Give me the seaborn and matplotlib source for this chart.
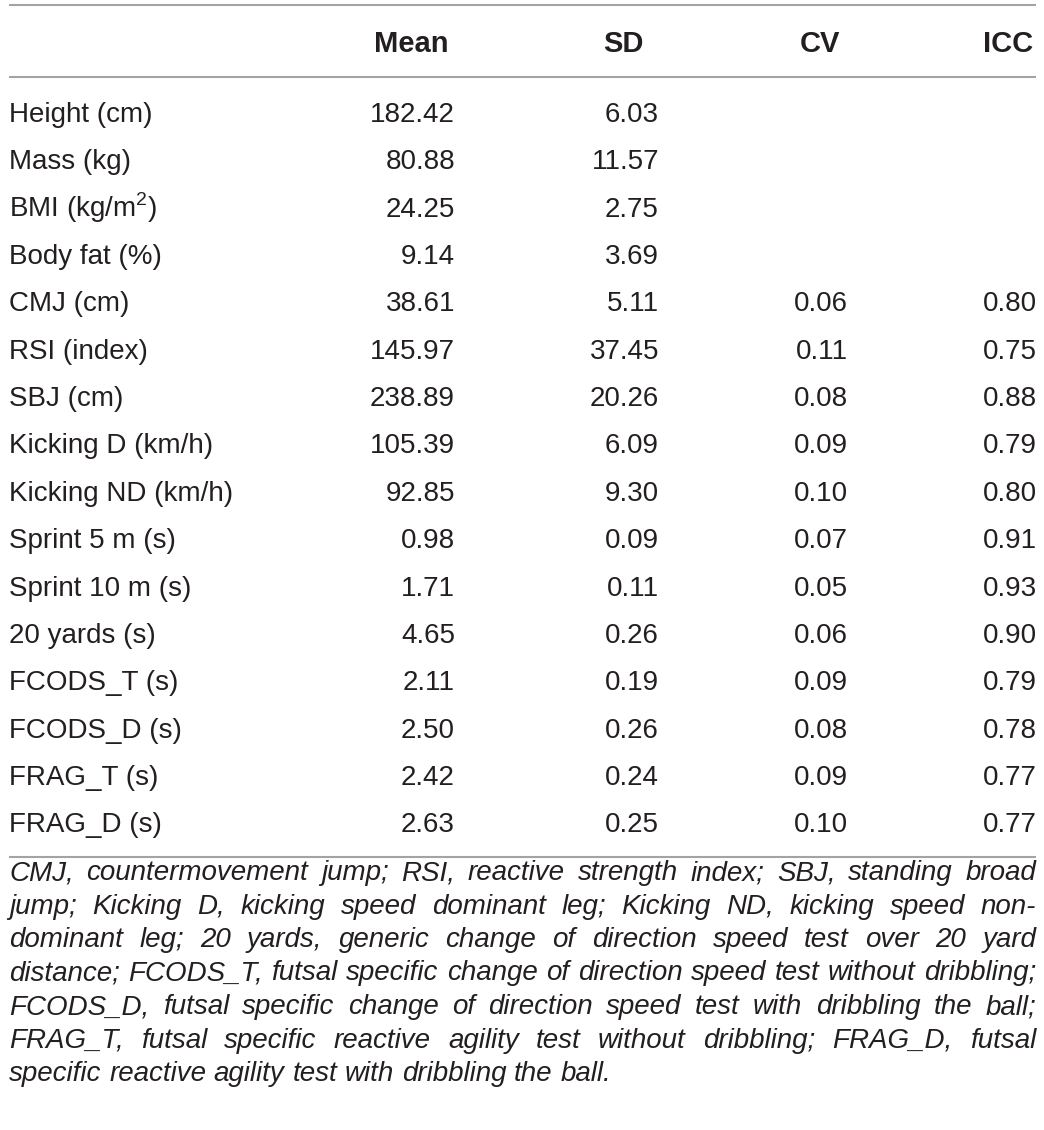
import numpy as np
import pandas as pd
import matplotlib
matplotlib.use("Agg")
import matplotlib.pyplot as plt
import seaborn as sns

# table values
labels = ["Height (cm)", "Mass (kg)", "BMI (kg/m$^{2}$)", "Body fat (%)", "CMJ (cm)",
          "RSI (index)", "SBJ (cm)", "Kicking D (km/h)", "Kicking ND (km/h)",
          "Sprint 5 m (s)", "Sprint 10 m (s)", "20 yards (s)", "FCODS_T (s)",
          "FCODS_D (s)", "FRAG_T (s)", "FRAG_D (s)"]
mean = [182.42, 80.88, 24.25, 9.14, 38.61, 145.97, 238.89, 105.39, 92.85,
        0.98, 1.71, 4.65, 2.11, 2.50, 2.42, 2.63]
sd = [6.03, 11.57, 2.75, 3.69, 5.11, 37.45, 20.26, 6.09, 9.30,
      0.09, 0.11, 0.26, 0.19, 0.26, 0.24, 0.25]
cv = [None, None, None, None, 0.06, 0.11, 0.08, 0.09, 0.10,
      0.07, 0.05, 0.06, 0.09, 0.08, 0.09, 0.10]
icc = [None, None, None, None, 0.80, 0.75, 0.88, 0.79, 0.80,
       0.91, 0.93, 0.90, 0.79, 0.78, 0.77, 0.77]
columns = ["Mean", "SD", "CV", "ICC"]

footnote = [
    "CMJ, countermovement jump; RSI, reactive strength index; SBJ, standing broad",
    "jump; Kicking D, kicking speed dominant leg; Kicking ND, kicking speed non-",
    "dominant leg; 20 yards, generic change of direction speed test over 20 yard",
    "distance; FCODS_T, futsal specific change of direction speed test without dribbling;",
    "FCODS_D, futsal specific change of direction speed test with dribbling the ball;",
    "FRAG_T, futsal specific reactive agility test without dribbling; FRAG_D, futsal",
    "specific reactive agility test with dribbling the ball.",
]

df = pd.DataFrame({"Mean": mean, "SD": sd, "CV": cv, "ICC": icc}, index=labels)

sns.set_theme(style="white")
plt.rcParams["font.family"] = ["Liberation Sans", "DejaVu Sans"]
plt.rcParams["mathtext.fontset"] = "custom"
plt.rcParams["mathtext.rm"] = "Liberation Sans"

ink = "#231f20"
rule = "#a3a3a3"

fig = plt.figure(figsize=(10.44, 11.30), dpi=100)
ax = fig.add_axes([0, 0, 1, 1])
ax.set_xlim(0, 1044)
ax.set_ylim(1130, 0)
ax.axis("off")

# horizontal rules
ax.hlines([5, 77, 857], 9, 1036, color=rule, lw=1.5)

col_right = [455, 659, 848, 1037]
col_center = [411, 623, 820, 1008]

for c, xc in zip(columns, col_center):
    ax.text(xc, 52, c, ha="center", va="baseline", fontsize=21,
            fontweight="bold", color=ink)

row0, step = 122, 47.35
for i, lab in enumerate(df.index):
    yb = row0 + i * step
    ax.text(9, yb, lab, ha="left", va="baseline", fontsize=20, color=ink)
    for c, xr in zip(columns, col_right):
        v = df.loc[lab, c]
        if pd.notna(v):
            ax.text(xr, yb, f"{v:.2f}", ha="right", va="baseline",
                    fontsize=20, color=ink)

# justified italic footnote
renderer = fig.canvas.get_renderer()
x0, x1 = 9, 1036
fn_kw = dict(fontsize=17, style="italic", color=ink, va="baseline", ha="left")


def width(s):
    t = ax.text(0, 0, s, **fn_kw)
    w = t.get_window_extent(renderer).width
    t.remove()
    return w


# the longest line sits with plain spacing in the reference
fn_kw["fontsize"] = 17 * (x1 - x0 - 4) / width(footnote[3])

space = width("a a") - width("aa")
fn0, fn_step = 880, 33.5
for k, line in enumerate(footnote):
    yb = fn0 + k * fn_step
    words = line.split(" ")
    ws = [width(w) for w in words]
    if k < len(footnote) - 1:
        gap = (x1 - x0 - sum(ws)) / (len(words) - 1)
    else:
        gap = space
    x = x0
    for w, wd in zip(words, ws):
        ax.text(x, yb, w, **fn_kw)
        x += wd + gap

fig.savefig("out.png", dpi=100)
